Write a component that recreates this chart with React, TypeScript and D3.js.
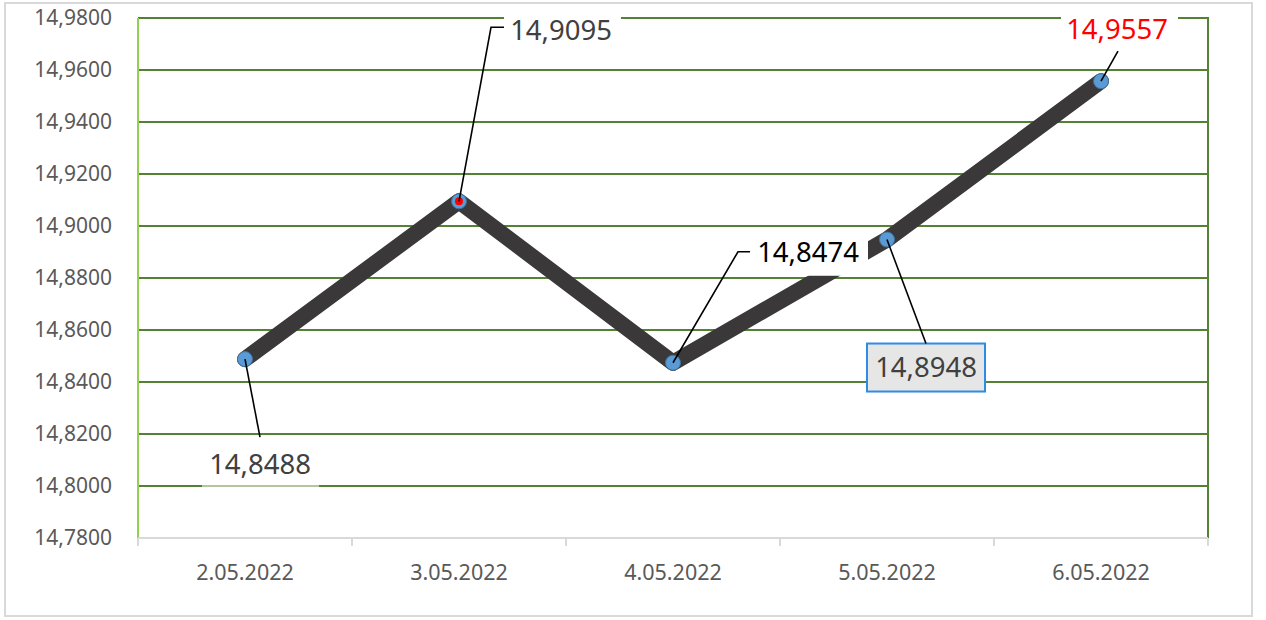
import React from "react";
import * as d3 from "d3";

const dates = ["2.05.2022", "3.05.2022", "4.05.2022", "5.05.2022", "6.05.2022"];
const values = [14.8488, 14.9095, 14.8474, 14.8948, 14.9557];
const yTicks = [14.78, 14.8, 14.82, 14.84, 14.86, 14.88, 14.9, 14.92, 14.94, 14.96, 14.98];

// label styling: offsets (px) relative to the point
const labelStyles = [
  { tx: 15, ty: 105, leader: [[15, 78]], box: [-43, 85, 117, 43], fill: "#ffffff", fillOpacity: 0.55, stroke: "none", color: "#404040" },
  { tx: 102, ty: -171, leader: [[32, -174], [45, -174]], box: [45, -191, 117, 40], fill: "#ffffff", fillOpacity: 1, stroke: "none", color: "#404040" },
  { tx: 135, ty: -110, leader: [[65, -111], [77, -111]], box: [77, -129, 118, 42], fill: "#ffffff", fillOpacity: 1, stroke: "none", color: "#000000" },
  { tx: 39, ty: 128, leader: [[39, 104]], box: [-20, 104, 118, 48], fill: "#e7e6e6", fillOpacity: 1, stroke: "#2e8be6", color: "#404040" },
  { tx: 16, ty: -52, leader: [[17, -30]], box: [-40, -72, 117, 40], fill: "#ffffff", fillOpacity: 1, stroke: "none", color: "#ff0000" },
];

const fmt = (v: number) => v.toFixed(4).replace(".", ",");

export default function App() {
  const W = 1266, H = 620;
  const left = 138, right = 1208, top = 18, bottom = 538;
  const x = d3.scaleBand<string>().domain(dates).range([left, right]);
  const y = d3.scaleLinear().domain([14.78, 14.98]).range([bottom, top]);
  const cx = (d: string) => (x(d) as number) + x.bandwidth() / 2;
  const line = d3.line<number>().x((_, i) => cx(dates[i])).y((v) => y(v));
  const font = "'Segoe UI', 'Noto Sans', 'Open Sans', sans-serif";
  const tickXs = dates.map((d) => x(d) as number).concat([right]);

  return (
    <svg width={W} height={H} style={{ position: "absolute", left: 0, top: 0, background: "#fff" }} fontFamily={font}>
      <rect x={5} y={3} width={1247} height={613} fill="#fff" stroke="#d9d9d9" strokeWidth={2} />
      {yTicks.map((t) => (
        <g key={t}>
          {t > 14.78 && <line x1={left} x2={right} y1={y(t)} y2={y(t)} stroke="#548235" strokeWidth={2} />}
          <text x={112} y={y(t)} dy="0.35em" textAnchor="end" fontSize={21} fill="#595959">{fmt(t)}</text>
        </g>
      ))}
      <line x1={right} x2={right} y1={top - 1} y2={bottom} stroke="#548235" strokeWidth={2} />
      <line x1={left} x2={left} y1={top} y2={bottom} stroke="#92d050" strokeWidth={2} />
      <line x1={left} x2={right} y1={bottom} y2={bottom} stroke="#d9d9d9" strokeWidth={2} />
      {tickXs.map((t, i) => (
        <line key={i} x1={t} x2={t} y1={bottom} y2={bottom + 8} stroke="#d9d9d9" strokeWidth={2} />
      ))}
      {dates.map((d) => (
        <text key={d} x={cx(d)} y={572} dy="0.35em" textAnchor="middle" fontSize={21.5} fill="#595959">{d}</text>
      ))}
      <path d={line(values) || ""} fill="none" stroke="#3a3838" strokeWidth={16} strokeLinejoin="round" strokeLinecap="round" />
      {values.map((v, i) => (
        <g key={i}>
          <circle cx={cx(dates[i])} cy={y(v)} r={7.5} fill="#5b9bd5" stroke="#41719c" strokeWidth={1} />
          {i === 1 && <circle cx={cx(dates[i])} cy={y(v)} r={4} fill="#ff0000" />}
        </g>
      ))}
      {values.map((v, i) => {
        const s = labelStyles[i];
        const px = cx(dates[i]);
        const py = y(v);
        const pts = [[0, 0], ...s.leader].map(([a, b]) => [px + a, py + b]);
        return (
          <g key={"l" + i}>
            <rect x={px + s.box[0]} y={py + s.box[1]} width={s.box[2]} height={s.box[3]} fill={s.fill} fillOpacity={s.fillOpacity} stroke={s.stroke} strokeWidth={2} />
            <polyline points={pts.map((p) => p.join(",")).join(" ")} fill="none" stroke="#000" strokeWidth={1.6} />
            <text x={px + s.tx} y={py + s.ty} dy="0.35em" textAnchor="middle" fontSize={27.5} fill={s.color}>{fmt(v)}</text>
          </g>
        );
      })}
    </svg>
  );
}
